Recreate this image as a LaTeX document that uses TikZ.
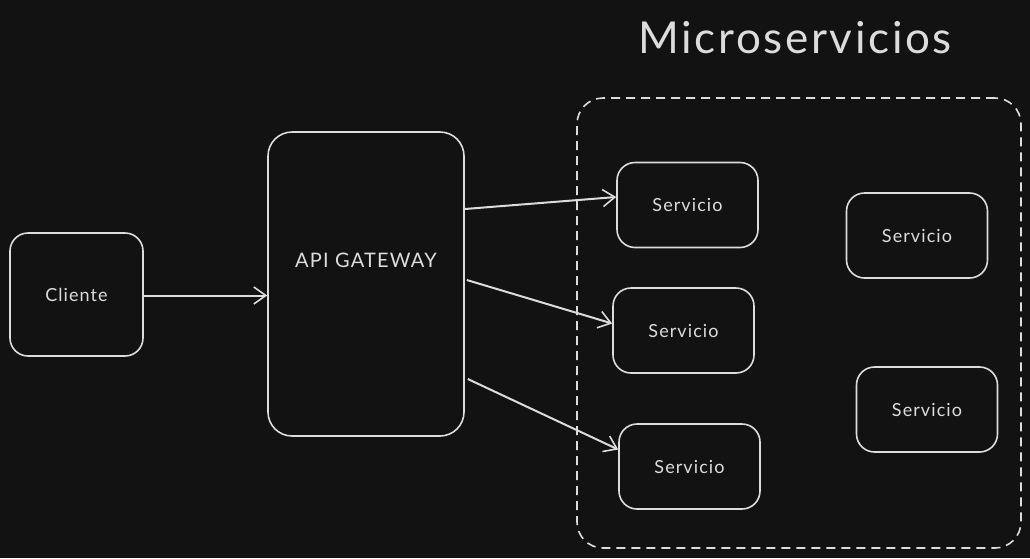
\documentclass[tikz,border=0pt]{standalone}
\usepackage{fontspec}
\setmainfont{Lato}[LetterSpace=6]
\usetikzlibrary{arrows.meta}
\definecolor{bgc}{HTML}{121212}
\definecolor{ink}{HTML}{DCDCDC}
\tikzset{
  box/.style={draw=ink, line width=1.6pt, rounded corners=18pt, fill=bgc, text=ink, inner sep=0pt},
  svc/.style={box, minimum width=141pt, minimum height=85pt, font=\fontsize{18}{21}\selectfont},
  link/.style={draw=ink, line width=2pt, -{Straight Barb[length=12pt,width=17pt,line width=1.6pt]}},
}
\begin{document}
\begin{tikzpicture}[x=1pt,y=-1pt]
\fill[bgc] (0,0) rectangle (1030,558);
\useasboundingbox (0,0) rectangle (1030,558);
% container
\node[draw=ink, line width=1.6pt, dash pattern=on 9pt off 6pt, rounded corners=26pt,
      minimum width=444pt, minimum height=450pt] (ms) at (799,323) {};
\node[text=ink, font=\fontsize{44}{50}\selectfont] (title) at (795,38) {Microservicios};
% nodes
\node[box, minimum width=133pt, minimum height=123pt, font=\fontsize{18}{21}\selectfont] (cli) at (76.5,294.5) {Cliente};
\node[box, rounded corners=24pt, minimum width=196pt, minimum height=304pt] (gw) at (366,284) {};
\node[text=ink, font=\fontsize{20}{24}\selectfont] (gwlabel) at (366,260) {API GATEWAY};
\node[svc] (s1) at (687.5,205) {Servicio};
\node[svc] (s2) at (683.5,330.5) {Servicio};
\node[svc] (s3) at (689.5,466.5) {Servicio};
\node[svc] (s4) at (917,235.5) {Servicio};
\node[svc] (s5) at (927,409.5) {Servicio};
% connectors
\draw[link] ([yshift=-1pt]cli.east) -- ([yshift=-1pt]cli.east -| gw.west);
\draw[link] ([yshift=75pt]gw.east) -- ([yshift=8pt]s1.west);
\draw[link] ([xshift=2pt,yshift=4pt]gw.east) -- ([yshift=7pt]s2.west);
\draw[link] ([xshift=3pt,yshift=-95pt]gw.east) -- ([yshift=17pt]s3.west);
\end{tikzpicture}
\end{document}
